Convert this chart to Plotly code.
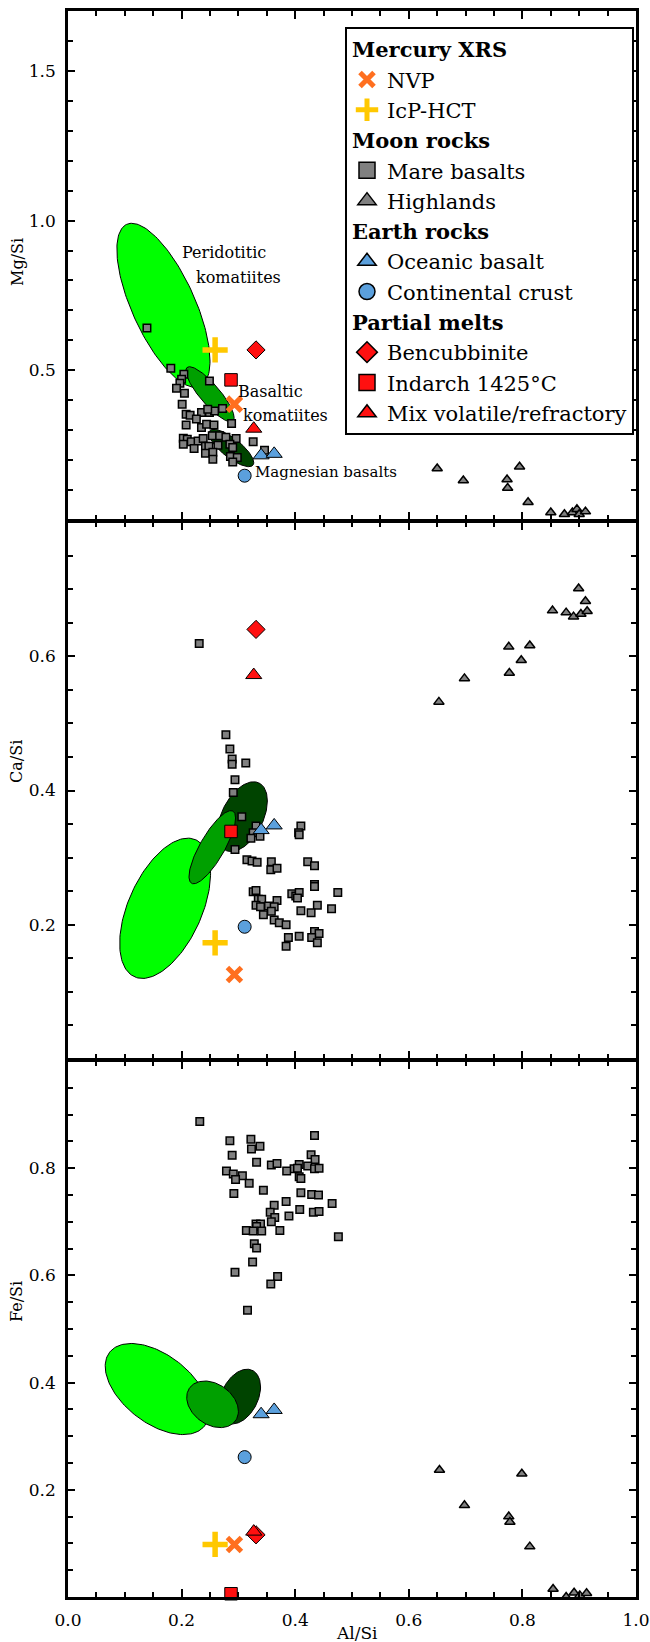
import numpy as np
import plotly.graph_objects as go

FONT = "DejaVu Serif"
ORANGE = "#FF6F1F"
YELLOW = "#FFC800"
RED = "#FF1010"
BLUE = "#5BA0DD"
GREY = "#808080"
LIGHT_G = "#00FF00"
MID_G = "#00A000"
DARK_G = "#004400"

# ---------------- data (x = Al/Si) ----------------
# Mercury XRS
nvp_al = [0.293]; nvp_mg = [0.387]; nvp_ca = [0.126]; nvp_fe = [0.098]
icp_al = [0.259]; icp_mg = [0.568]; icp_ca = [0.173]; icp_fe = [0.098]
# Partial melts
benc_al = [0.331]; benc_mg = [0.568]; benc_ca = [0.640]; benc_fe = [0.116]
ind_al = [0.287]; ind_mg = [0.468]; ind_ca = [0.339]; ind_fe = [0.006]
mix_al = [0.327]; mix_mg = [0.305]; mix_ca = [0.572]; mix_fe = [0.122]
# Earth rocks
oce_al = [0.340, 0.363]; oce_mg = [0.216, 0.221]; oce_ca = [0.341, 0.348]; oce_fe = [0.341, 0.349]
cont_al = [0.311]; cont_mg = [0.148]; cont_ca = [0.197]; cont_fe = [0.261]

# Moon: mare basalts
mare_al_mg = [0.139, 0.181, 0.204, 0.200, 0.197, 0.191, 0.205, 0.249, 0.201, 0.208, 0.215, 0.235,
              0.249, 0.258, 0.272, 0.246, 0.226, 0.208, 0.235, 0.244, 0.257, 0.288, 0.203, 0.210,
              0.217, 0.229, 0.203, 0.222, 0.238, 0.242, 0.248, 0.254, 0.267, 0.278, 0.296, 0.264,
              0.285, 0.290, 0.242, 0.255, 0.255, 0.286, 0.298, 0.290, 0.326, 0.346]
mare_mg = [0.641, 0.507, 0.487, 0.470, 0.457, 0.440, 0.423, 0.464, 0.387, 0.353, 0.350, 0.359,
           0.359, 0.364, 0.372, 0.370, 0.337, 0.317, 0.309, 0.320, 0.317, 0.322, 0.273, 0.270,
           0.261, 0.264, 0.253, 0.239, 0.272, 0.246, 0.246, 0.281, 0.281, 0.276, 0.272, 0.250,
           0.253, 0.242, 0.223, 0.226, 0.203, 0.212, 0.209, 0.194, 0.261, 0.233]
mare_al_ca = [0.231, 0.278, 0.285, 0.289, 0.289, 0.313, 0.294, 0.291, 0.306, 0.331, 0.326, 0.322,
              0.338, 0.294, 0.315, 0.324, 0.333, 0.358, 0.357, 0.368, 0.410, 0.406, 0.407, 0.422,
              0.434, 0.434, 0.434, 0.326, 0.331, 0.335, 0.341, 0.331, 0.339, 0.368, 0.353, 0.363,
              0.358, 0.344, 0.394, 0.401, 0.407, 0.404, 0.410, 0.439, 0.428, 0.464, 0.363, 0.372,
              0.384, 0.388, 0.407, 0.384, 0.434, 0.442, 0.429, 0.439, 0.475]
mare_ca = [0.619, 0.483, 0.462, 0.447, 0.439, 0.441, 0.416, 0.397, 0.361, 0.347, 0.337, 0.329,
           0.332, 0.312, 0.297, 0.295, 0.293, 0.294, 0.282, 0.284, 0.347, 0.337, 0.334, 0.294,
           0.288, 0.260, 0.257, 0.249, 0.251, 0.238, 0.238, 0.229, 0.227, 0.236, 0.228, 0.227,
           0.220, 0.215, 0.246, 0.243, 0.248, 0.240, 0.221, 0.229, 0.218, 0.224, 0.207, 0.203,
           0.200, 0.181, 0.183, 0.168, 0.190, 0.187, 0.181, 0.173, 0.248]
mare_al_fe = [0.232, 0.285, 0.322, 0.434, 0.323, 0.338, 0.289, 0.428, 0.435, 0.332, 0.358, 0.368,
              0.407, 0.422, 0.434, 0.442, 0.398, 0.404, 0.385, 0.279, 0.291, 0.307, 0.295, 0.407,
              0.410, 0.319, 0.344, 0.292, 0.410, 0.429, 0.441, 0.384, 0.465, 0.363, 0.356, 0.408,
              0.432, 0.442, 0.364, 0.389, 0.358, 0.331, 0.339, 0.332, 0.314, 0.326, 0.341, 0.373,
              0.328, 0.332, 0.325, 0.294, 0.369, 0.357, 0.316, 0.476]
mare_fe = [0.887, 0.851, 0.854, 0.861, 0.836, 0.841, 0.824, 0.825, 0.816, 0.811, 0.806, 0.809,
           0.807, 0.804, 0.799, 0.800, 0.799, 0.800, 0.795, 0.795, 0.789, 0.786, 0.779, 0.784,
           0.781, 0.772, 0.759, 0.753, 0.754, 0.751, 0.750, 0.738, 0.734, 0.731, 0.718, 0.723,
           0.718, 0.719, 0.708, 0.711, 0.700, 0.696, 0.696, 0.691, 0.684, 0.683, 0.683, 0.684,
           0.659, 0.651, 0.625, 0.606, 0.598, 0.584, 0.535, 0.672]

# Moon: highlands
hl_al_mg = [0.650, 0.696, 0.773, 0.774, 0.795, 0.810, 0.850, 0.874, 0.888, 0.896, 0.900, 0.911]
hl_mg = [0.172, 0.132, 0.135, 0.107, 0.178, 0.059, 0.025, 0.019, 0.025, 0.036, 0.019, 0.028]
hl_al_ca = [0.653, 0.698, 0.776, 0.777, 0.798, 0.813, 0.853, 0.877, 0.890, 0.899, 0.911, 0.903, 0.914]
hl_ca = [0.532, 0.567, 0.614, 0.575, 0.594, 0.616, 0.668, 0.665, 0.659, 0.701, 0.682, 0.663, 0.667]
hl_al_fe = [0.654, 0.698, 0.776, 0.778, 0.799, 0.813, 0.854, 0.877, 0.891, 0.901, 0.913]
hl_fe = [0.237, 0.171, 0.150, 0.140, 0.230, 0.094, 0.015, 0.000, 0.008, 0.003, 0.007]

# Komatiite / basalt fields: centre x, centre y, half-width x, half-height y, tilt (correlation)
field_names = ["Peridotitic komatiites", "Magnesian basalts", "Basaltic komatiites"]
field_colors = [LIGHT_G, DARK_G, MID_G]
fields_mg = [(0.168, 0.717, 0.082, 0.274, -0.68), (0.2875, 0.2405, 0.0395, 0.0625, -0.78),
             (0.250, 0.420, 0.0425, 0.092, -0.85)]
fields_ca = [(0.171, 0.2245, 0.080, 0.1045, 0.50), (0.307, 0.361, 0.044, 0.052, 0.45),
             (0.254, 0.3155, 0.041, 0.0545, 0.80)]
fields_fe = [(0.157, 0.388, 0.0915, 0.085, -0.50), (0.3025, 0.374, 0.0365, 0.051, 0.35),
             (0.2545, 0.3595, 0.0455, 0.0435, -0.30)]

x_ticks = [0.0, 0.2, 0.4, 0.6, 0.8, 1.0]
y_ticks_mg = [0.5, 1.0, 1.5]
y_ticks_ca = [0.2, 0.4, 0.6]
y_ticks_fe = [0.2, 0.4, 0.6, 0.8]


def ellipse(cx, cy, rx, ry, rho, n=160):
    t = np.linspace(0, 2 * np.pi, n)
    phi = np.arccos(rho)
    return cx + rx * np.cos(t), cy + ry * np.cos(t - phi)


fig = go.Figure()

panels = [
    ("x3", "y3", fields_mg, mare_al_mg, mare_mg, hl_al_mg, hl_mg,
     oce_mg, cont_mg, benc_mg, ind_mg, mix_mg, nvp_mg, icp_mg),
    ("x2", "y2", fields_ca, mare_al_ca, mare_ca, hl_al_ca, hl_ca,
     oce_ca, cont_ca, benc_ca, ind_ca, mix_ca, nvp_ca, icp_ca),
    ("x", "y", fields_fe, mare_al_fe, mare_fe, hl_al_fe, hl_fe,
     oce_fe, cont_fe, benc_fe, ind_fe, mix_fe, nvp_fe, icp_fe),
]

for (xa, ya, fields, m_al, m_y, h_al, h_y, o_y, c_y, b_y, i_y, x_y, n_y, p_y) in panels:
    for name, col, prm in zip(field_names, field_colors, fields):
        ex, ey = ellipse(*prm)
        fig.add_trace(go.Scatter(x=ex, y=ey, xaxis=xa, yaxis=ya, mode="lines", fill="toself",
                                 fillcolor=col, line=dict(color="black", width=1),
                                 name=name, showlegend=False, hoverinfo="skip"))
    common = dict(xaxis=xa, yaxis=ya, mode="markers", showlegend=False, cliponaxis=False)
    fig.add_trace(go.Scatter(x=m_al, y=m_y, name="Mare basalts",
                             marker=dict(symbol="square", size=7.5, color=GREY,
                                         line=dict(color="black", width=1.5)), **common))
    fig.add_trace(go.Scatter(x=h_al, y=h_y, name="Highlands",
                             marker=dict(symbol="triangle-up", size=9, color=GREY,
                                         line=dict(color="black", width=1.5)), **common))
    fig.add_trace(go.Scatter(x=oce_al, y=o_y, name="Oceanic basalt",
                             marker=dict(symbol="triangle-up", size=14, color=BLUE,
                                         line=dict(color="black", width=1)), **common))
    fig.add_trace(go.Scatter(x=cont_al, y=c_y, name="Continental crust",
                             marker=dict(symbol="circle", size=13, color=BLUE,
                                         line=dict(color="black", width=1)), **common))
    fig.add_trace(go.Scatter(x=benc_al, y=b_y, name="Bencubbinite",
                             marker=dict(symbol="diamond", size=14, color=RED,
                                         line=dict(color="black", width=1)), **common))
    fig.add_trace(go.Scatter(x=ind_al, y=i_y, name="Indarch 1425°C",
                             marker=dict(symbol="square", size=12.5, color=RED,
                                         line=dict(color="black", width=1)), **common))
    fig.add_trace(go.Scatter(x=mix_al, y=x_y, name="Mix volatile/refractory",
                             marker=dict(symbol="triangle-up", size=14, color=RED,
                                         line=dict(color="black", width=1)), **common))
    fig.add_trace(go.Scatter(x=nvp_al, y=n_y, name="NVP",
                             marker=dict(symbol="x-thin", size=14, color=ORANGE,
                                         line=dict(color=ORANGE, width=5)), **common))
    fig.add_trace(go.Scatter(x=icp_al, y=p_y, name="IcP-HCT",
                             marker=dict(symbol="cross-thin", size=18, color=YELLOW,
                                         line=dict(color=YELLOW, width=5.5)), **common))

# legend entries (grouped, with bold group titles)
legend_groups = [
    ("Mercury XRS", [("NVP", dict(symbol="x-thin", size=14, color=ORANGE, line=dict(color=ORANGE, width=5))),
                     ("IcP-HCT", dict(symbol="cross-thin", size=16, color=YELLOW, line=dict(color=YELLOW, width=5)))]),
    ("Moon rocks", [("Mare basalts", dict(symbol="square", size=16, color=GREY, line=dict(color="black", width=1.5))),
                    ("Highlands", dict(symbol="triangle-up", size=16, color=GREY, line=dict(color="black", width=1.5)))]),
    ("Earth rocks", [("Oceanic basalt", dict(symbol="triangle-up", size=16, color=BLUE, line=dict(color="black", width=1.5))),
                     ("Continental crust", dict(symbol="circle", size=16, color=BLUE, line=dict(color="black", width=1.5)))]),
    ("Partial melts", [("Bencubbinite", dict(symbol="diamond", size=16, color=RED, line=dict(color="black", width=1.5))),
                       ("Indarch 1425°C", dict(symbol="square", size=16, color=RED, line=dict(color="black", width=1.5))),
                       ("Mix volatile/refractory", dict(symbol="triangle-up", size=16, color=RED, line=dict(color="black", width=1.5)))]),
]
for gname, items in legend_groups:
    for lname, mk in items:
        fig.add_trace(go.Scatter(x=[None], y=[None], xaxis="x3", yaxis="y3", mode="markers",
                                 name=lname, marker=mk, legendgroup=gname,
                                 legendgrouptitle=dict(text=gname,
                                                       font=dict(family=FONT, size=21, color="black", weight="bold")),
                                 showlegend=True))

# ---------------- layout ----------------
W, H = 650, 1642
L, R, T, B = 68, 14, 11, 45
ph = H - T - B  # 1586

def dom(lo_px, hi_px):
    return [lo_px / ph, hi_px / ph]

tickfont = dict(family=FONT, size=17, color="black")

def xax(show_labels, anchor):
    return dict(range=[0, 1], anchor=anchor, showline=True, linecolor="black", linewidth=2.5,
                mirror="allticks", ticks="inside", ticklen=8, tickwidth=2, tickcolor="black",
                tickvals=x_ticks, ticktext=[f"{v:.1f}" for v in x_ticks], showticklabels=show_labels,
                tickfont=tickfont, ticklabelstandoff=6, showgrid=False, zeroline=False,
                minor=dict(dtick=0.05, tick0=0, ticks="inside", ticklen=5.5, tickwidth=2,
                           tickcolor="black", showgrid=False))

def yax(rng, ticks, domain, anchor, minor_dt):
    return dict(range=rng, domain=domain, anchor=anchor, showline=True, linecolor="black",
                linewidth=2.5, mirror="allticks", ticks="inside", ticklen=7, tickwidth=2,
                tickcolor="black", tickvals=ticks, ticktext=[f"{v:.1f}" for v in ticks],
                tickfont=tickfont, ticklabelstandoff=6, showgrid=False, zeroline=False,
                minor=dict(dtick=minor_dt, tick0=0, ticks="inside", ticklen=5.5, tickwidth=2,
                           tickcolor="black", showgrid=False))

fig.update_layout(
    width=W, height=H, margin=dict(l=L, r=R, t=T, b=B, autoexpand=False),
    paper_bgcolor="white", plot_bgcolor="white",
    font=dict(family=FONT, color="black"),
    xaxis=xax(True, "y"), yaxis=yax([0, 1.0], y_ticks_fe, dom(0, 536), "x", 0.05),
    xaxis2=xax(False, "y2"), yaxis2=yax([0, 0.8], y_ticks_ca, dom(538, 1075), "x2", 0.05),
    xaxis3=xax(False, "y3"), yaxis3=yax([0, 1.7], y_ticks_mg, dom(1077, ph), "x3", 0.1),
    legend=dict(x=(345 - L) / (W - L - R), y=(H - B - 27) / ph, xanchor="left", yanchor="top",
                bgcolor="white", bordercolor="black", borderwidth=2,
                font=dict(family=FONT, size=21, color="black"),
                entrywidth=236, entrywidthmode="pixels",
                traceorder="grouped", tracegroupgap=0, itemclick=False, itemdoubleclick=False),
    showlegend=True,
)

# field labels (top panel)
labels = [("Peridotitic", 0.198, 0.893), ("komatiites", 0.221, 0.811),
          ("Basaltic", 0.295, 0.428), ("komatiites", 0.305, 0.350),
          ("Magnesian basalts", 0.326, 0.162)]
for txt, lx, ly in labels:
    fig.add_annotation(text=txt, x=lx, y=ly, xref="x3", yref="y3", xanchor="left", yanchor="middle",
                       showarrow=False, font=dict(family=FONT, size=16 if txt != "Magnesian basalts" else 15,
                                                  color="black"))

# axis titles
def px_to_paper(px, py):
    return (px - L) / (W - L - R), (H - B - py) / ph

for txt, (px, py) in [("Mg/Si", (17, 262)), ("Ca/Si", (16, 762)), ("Fe/Si", (16, 1302))]:
    ax_, ay_ = px_to_paper(px, py)
    fig.add_annotation(text=txt, x=ax_, y=ay_, xref="paper", yref="paper", textangle=-90,
                       xanchor="center", yanchor="middle", showarrow=False,
                       font=dict(family=FONT, size=16, color="black"))
ax_, ay_ = px_to_paper(357, 1633)
fig.add_annotation(text="Al/Si", x=ax_, y=ay_, xref="paper", yref="paper", xanchor="center",
                   yanchor="middle", showarrow=False, font=dict(family=FONT, size=17, color="black"))

fig.write_html("out.html")
